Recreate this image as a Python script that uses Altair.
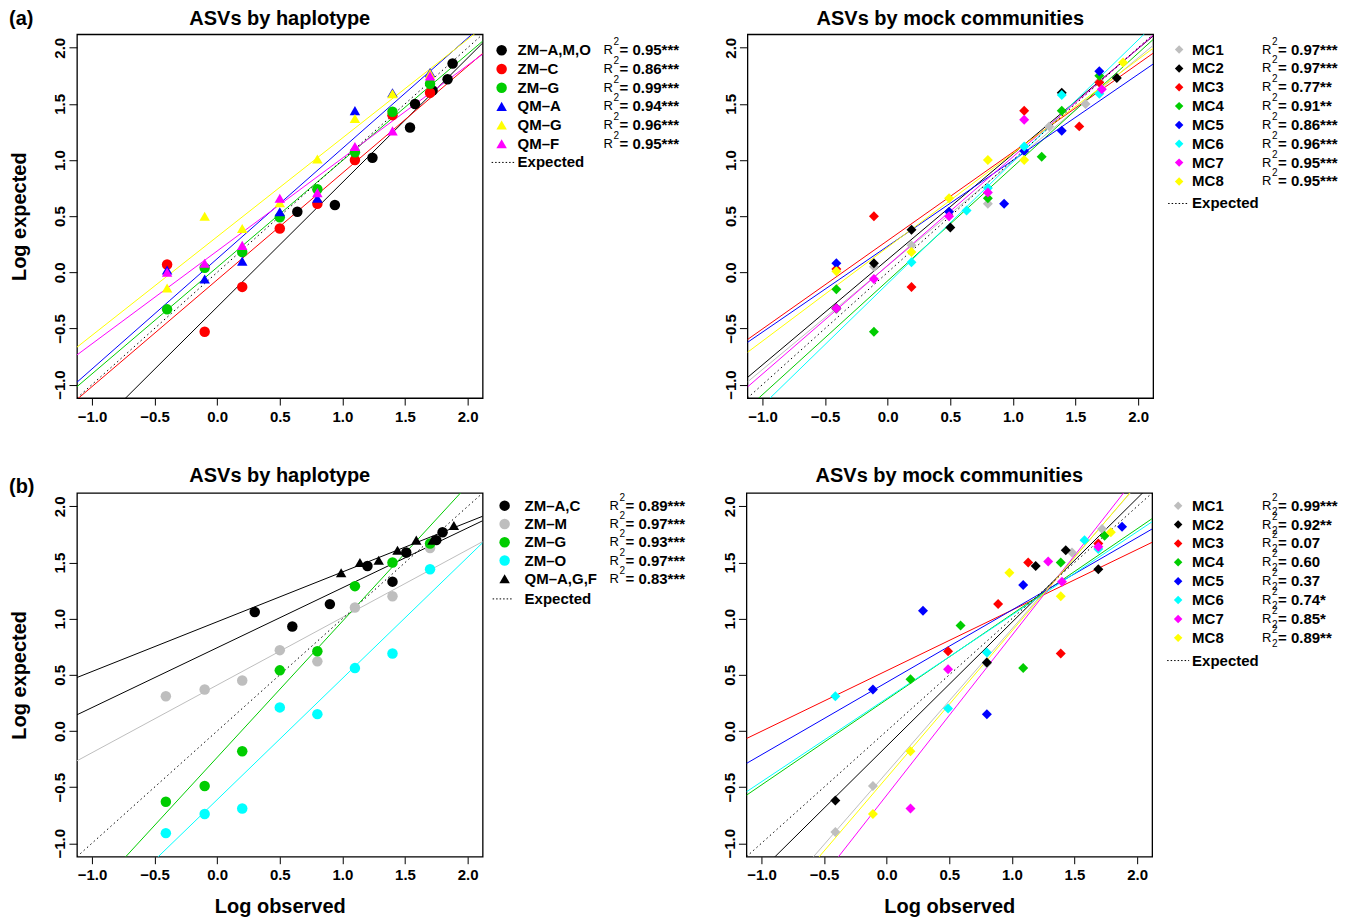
import altair as alt
import pandas as pd

FONT = "Liberation Sans"
DOM = [-1.12, 2.12]
TICKS = [-1.0, -0.5, 0.0, 0.5, 1.0, 1.5, 2.0]
W, H = 406, 364

# ---------------- (a) ASVs by haplotype ----------------
a1_groups = ["ZM–A,M,O", "ZM–C", "ZM–G", "QM–A", "QM–G", "QM–F"]
a1_colors = ["#000000", "#FF0000", "#00CD00", "#0000FF", "#FFFF00", "#FF00FF"]
a1_shapes = ["circle", "circle", "circle", "triangle-up", "triangle-up", "triangle-up"]
a1_r2 = ["0.95***", "0.86***", "0.99***", "0.94***", "0.96***", "0.95***"]
hx = [-0.40, -0.10, 0.20, 0.50, 0.80, 1.10, 1.40, 1.70]
a1_x = [
    [0.64, 0.94, 1.24, 1.54, 1.58, 1.72, 1.84, 1.88],
    hx, hx, hx, hx, hx,
]
a1_y = [
    [0.54, 0.60, 1.02, 1.29, 1.50, 1.62, 1.72, 1.86],
    [0.07, -0.53, -0.13, 0.39, 0.61, 1.00, 1.40, 1.60],
    [-0.33, 0.04, 0.18, 0.49, 0.74, 1.07, 1.43, 1.68],
    [0.02, -0.06, 0.10, 0.54, 0.66, 1.44, 1.60, 1.78],
    [-0.14, 0.50, 0.39, 0.62, 1.01, 1.37, 1.59, 1.77],
    [0.00, 0.08, 0.24, 0.66, 0.71, 1.12, 1.26, 1.75],
]

# ---------------- (a) ASVs by mock communities ----------------
mc_groups = ["MC1", "MC2", "MC3", "MC4", "MC5", "MC6", "MC7", "MC8"]
mc_colors = ["#BEBEBE", "#000000", "#FF0000", "#00CD00", "#0000FF", "#00FFFF", "#FF00FF", "#FFFF00"]
mc_shapes = ["diamond"] * 8
a2_r2 = ["0.97***", "0.97***", "0.77**", "0.91**", "0.86***", "0.96***", "0.95***", "0.95***"]
a2_x = [
    [-0.41, -0.11, 0.19, 0.80, 1.29, 1.58, 1.69],
    [-0.41, -0.11, 0.19, 0.50, 1.39, 1.83],
    [-0.41, -0.11, 0.19, 1.09, 1.53, 1.69],
    [-0.41, -0.11, 0.80, 1.23, 1.39, 1.69],
    [-0.41, 0.49, 0.93, 1.09, 1.39, 1.69],
    [0.19, 0.63, 0.80, 1.09, 1.39, 1.69],
    [-0.41, -0.11, 0.49, 0.80, 1.09, 1.71],
    [-0.41, 0.19, 0.49, 0.80, 1.09, 1.88],
]
a2_y = [
    [-0.33, 0.05, 0.24, 0.61, 1.30, 1.50, 1.70],
    [-0.32, 0.08, 0.38, 0.40, 1.60, 1.73],
    [0.03, 0.50, -0.13, 1.44, 1.30, 1.69],
    [-0.15, -0.53, 0.66, 1.03, 1.44, 1.75],
    [0.08, 0.54, 0.61, 1.08, 1.26, 1.79],
    [0.09, 0.55, 0.75, 1.12, 1.58, 1.59],
    [-0.32, -0.06, 0.50, 0.71, 1.36, 1.63],
    [0.01, 0.18, 0.66, 1.00, 1.00, 1.87],
]

# ---------------- (b) ASVs by haplotype ----------------
b1_groups = ["ZM–A,C", "ZM–M", "ZM–G", "ZM–O", "QM–A,G,F"]
b1_colors = ["#000000", "#BEBEBE", "#00CD00", "#00FFFF", "#000000"]
b1_shapes = ["circle", "circle", "circle", "circle", "triangle-up"]
b1_r2 = ["0.89***", "0.97***", "0.93***", "0.97***", "0.83***"]
b1_x = [
    [0.30, 0.60, 0.90, 1.20, 1.40, 1.51, 1.75, 1.80],
    [-0.41, -0.10, 0.20, 0.50, 0.80, 1.10, 1.40, 1.70],
    [-0.41, -0.10, 0.20, 0.50, 0.80, 1.10, 1.40, 1.70],
    [-0.41, -0.10, 0.20, 0.50, 0.80, 1.10, 1.40, 1.70],
    [0.99, 1.14, 1.29, 1.44, 1.59, 1.72, 1.89],
]
b1_y = [
    [1.06, 0.93, 1.13, 1.47, 1.33, 1.59, 1.70, 1.77],
    [0.31, 0.37, 0.45, 0.72, 0.62, 1.10, 1.20, 1.63],
    [-0.63, -0.49, -0.18, 0.54, 0.71, 1.29, 1.50, 1.67],
    [-0.91, -0.74, -0.69, 0.21, 0.15, 0.56, 0.69, 1.44],
    [1.41, 1.50, 1.52, 1.61, 1.70, 1.70, 1.83],
]

# ---------------- (b) ASVs by mock communities ----------------
b2_r2 = ["0.99***", "0.92**", "0.07", "0.60", "0.37", "0.74*", "0.85*", "0.89**"]
b2_x = [
    [-0.41, -0.11, 0.80, 1.48, 1.72],
    [-0.41, 0.80, 1.19, 1.43, 1.69],
    [0.49, 0.89, 1.13, 1.39, 1.69],
    [0.19, 0.59, 1.09, 1.39, 1.74],
    [-0.11, 0.29, 0.80, 1.09, 1.88],
    [-0.41, 0.49, 0.80, 1.58, 1.69],
    [0.19, 0.49, 1.29, 1.40, 1.69],
    [-0.11, 0.19, 0.98, 1.39, 1.79],
]
b2_y = [
    [-0.90, -0.49, 0.60, 1.59, 1.80],
    [-0.62, 0.61, 1.47, 1.61, 1.44],
    [0.71, 1.13, 1.50, 0.69, 1.67],
    [0.46, 0.94, 0.56, 1.50, 1.74],
    [0.37, 1.07, 0.15, 1.30, 1.82],
    [0.31, 0.20, 0.70, 1.70, 1.62],
    [-0.69, 0.55, 1.51, 1.33, 1.64],
    [-0.74, -0.18, 1.41, 1.20, 1.77],
]

SIZE_PLOT = {"circle": 110, "triangle-up": 230, "diamond": 100}
SIZE_LEG = {"circle": 110, "triangle-up": 230, "diamond": 72}


def make_df(groups, xs, ys):
    rows = []
    for g, xv, yv in zip(groups, xs, ys):
        for a, b in zip(xv, yv):
            rows.append({"group": g, "x": a, "y": b})
    return pd.DataFrame(rows)


def panel(title, title_y, groups, colors, shapes, xs, ys, r2, tag, tag_y, leg, ytitle, xtitle, double2=False):
    df = make_df(groups, xs, ys)
    color = alt.Color("group:N", scale=alt.Scale(domain=groups, range=colors), legend=None)
    shape = alt.Shape("group:N", scale=alt.Scale(domain=groups, range=shapes), legend=None)
    size_p = alt.Size("group:N", scale=alt.Scale(domain=groups, range=[SIZE_PLOT[s] for s in shapes]), legend=None)
    size_l = alt.Size("group:N", scale=alt.Scale(domain=groups, range=[SIZE_LEG[s] for s in shapes]), legend=None)

    xaxis = alt.Axis(values=TICKS, format=".1f", grid=False, domain=False, tickSize=7, tickColor="black",
                     labelFont=FONT, labelFontSize=15, labelFontWeight="bold", labelColor="black",
                     labelPadding=4, title=xtitle, titleFont=FONT, titleFontSize=20, titleFontWeight="bold",
                     titleColor="black", titlePadding=14)
    yaxis = alt.Axis(values=TICKS, format=".1f", grid=False, domain=False, tickSize=8, tickColor="black",
                     labelFont=FONT, labelFontSize=15, labelFontWeight="bold", labelColor="black",
                     labelAngle=270, labelAlign="center", labelBaseline="alphabetic", labelPadding=4,
                     title=ytitle, titleFont=FONT, titleFontSize=20, titleFontWeight="bold",
                     titleColor="black", titlePadding=23)
    X = alt.X("x:Q", scale=alt.Scale(domain=DOM, nice=False, zero=False), axis=xaxis)
    Y = alt.Y("y:Q", scale=alt.Scale(domain=DOM, nice=False, zero=False), axis=yaxis)

    base = alt.Chart(df)
    lines = base.transform_regression("x", "y", groupby=["group"], extent=DOM).mark_line(
        clip=True, strokeWidth=1).encode(x=X, y=Y, color=color, detail="group:N")
    exp_df = pd.DataFrame({"x": DOM, "y": DOM})
    expected = alt.Chart(exp_df).mark_line(clip=True, color="black", strokeWidth=1,
                                            strokeDash=[1.5, 3]).encode(x=X, y=Y)
    points = base.mark_point(filled=True, opacity=1, strokeWidth=0).encode(
        x=X, y=Y, color=color, shape=shape, size=size_p)
    plot = alt.layer(lines, expected, points)

    n = len(groups)
    y0, step, yexp = leg["y0"], leg["step"], leg["yexp"]
    ldf = pd.DataFrame({"group": groups, "val": ["= " + v for v in r2]})
    LY = alt.Y("group:N", sort=groups, axis=None,
               scale=alt.Scale(type="point", domain=groups, range=[y0, y0 + step * (n - 1)], padding=0))
    lbase = alt.Chart(ldf)
    sym = lbase.mark_point(filled=True, opacity=1, strokeWidth=0).encode(
        x=alt.value(leg["mx"]), y=LY, color=color, shape=shape, size=size_l)
    lab = lbase.mark_text(align="left", baseline="middle", font=FONT, fontSize=15, fontWeight="bold",
                          color="black").encode(x=alt.value(leg["lx"]), y=LY, text="group:N")
    rr = lbase.mark_text(align="left", baseline="middle", font=FONT, fontSize=13, color="black",
                         text="R").encode(x=alt.value(leg["rx"]), y=LY)
    sup = lbase.mark_text(align="left", baseline="middle", font=FONT, fontSize=10, color="black",
                          text="2", dy=-8).encode(x=alt.value(leg["rx"] + 10), y=LY)
    val = lbase.mark_text(align="left", baseline="middle", font=FONT, fontSize=15, fontWeight="bold",
                          color="black").encode(x=alt.value(leg["rx"] + 16), y=LY, text="val:N")
    leg_layers = [sym, lab, rr, sup, val]
    if double2:
        sub = lbase.mark_text(align="left", baseline="middle", font=FONT, fontSize=10, color="black",
                              text="2", dy=6).encode(x=alt.value(leg["rx"] + 10), y=LY)
        leg_layers.append(sub)
    edf = pd.DataFrame({"t": ["Expected"]})
    erule = alt.Chart(edf).mark_rule(color="black", strokeWidth=1, strokeDash=[1.5, 2]).encode(
        x=alt.value(leg["dx0"]), x2=alt.value(leg["dx1"]), y=alt.value(yexp))
    etext = alt.Chart(edf).mark_text(align="left", baseline="middle", font=FONT, fontSize=15,
                                     fontWeight="bold", color="black").encode(
        x=alt.value(leg["lx"]), y=alt.value(yexp), text="t:N")
    leg_layers += [erule, etext]
    ttl = alt.Chart(pd.DataFrame({"t": [title]})).mark_text(
        align="center", baseline="middle", font=FONT, fontSize=20, fontWeight="bold", color="black"
    ).encode(x=alt.value(W / 2), y=alt.value(title_y), text="t:N")
    leg_layers.append(ttl)
    if tag:
        tdf = pd.DataFrame({"t": [tag]})
        ttxt = alt.Chart(tdf).mark_text(align="left", baseline="middle", font=FONT, fontSize=20,
                                        fontWeight="bold", color="black").encode(
            x=alt.value(-68), y=alt.value(tag_y), text="t:N")
        leg_layers.append(ttxt)
    legend = alt.layer(*leg_layers)

    return alt.layer(plot, legend).resolve_scale(
        y="independent", size="independent"
    ).properties(width=W, height=H)


legA1 = dict(mx=425, lx=441, rx=527, y0=16, step=18.7, yexp=128.2, dx0=415, dx1=438)
legA2 = dict(mx=432, lx=445, rx=515, y0=15.3, step=18.85, yexp=169.3, dx0=421, dx1=442)
legB1 = dict(mx=428, lx=448, rx=533, y0=12.7, step=18.3, yexp=106, dx0=416, dx1=435)
legB2 = dict(mx=432, lx=446, rx=516, y0=12.7, step=18.9, yexp=167.7, dx0=421, dx1=443)

pA1 = panel("ASVs by haplotype", -15, a1_groups, a1_colors, a1_shapes, a1_x, a1_y, a1_r2,
            "(a)", -15, legA1, "Log expected", None)
pA2 = panel("ASVs by mock communities", -15, mc_groups, mc_colors, mc_shapes, a2_x, a2_y, a2_r2,
            None, 0, legA2, None, None)
pB1 = panel("ASVs by haplotype", -17, b1_groups, b1_colors, b1_shapes, b1_x, b1_y, b1_r2,
            "(b)", -6, legB1, "Log expected", "Log observed")
pB2 = panel("ASVs by mock communities", -17, mc_groups, mc_colors, mc_shapes, b2_x, b2_y, b2_r2,
            None, 0, legB2, None, "Log observed", double2=True)

RES = dict(color="independent", shape="independent", size="independent")
chart = alt.vconcat(
    alt.hconcat(pA1, pA2, spacing=42).resolve_scale(**RES),
    alt.hconcat(pB1, pB2, spacing=35).resolve_scale(**RES),
    spacing=40,
).resolve_scale(**RES).properties(
    padding={"left": 0, "top": 0, "right": 5, "bottom": 0}
).configure_view(stroke="black", strokeWidth=1.3)

chart.save("out.html", embed_options={"renderer": "svg", "actions": False})
